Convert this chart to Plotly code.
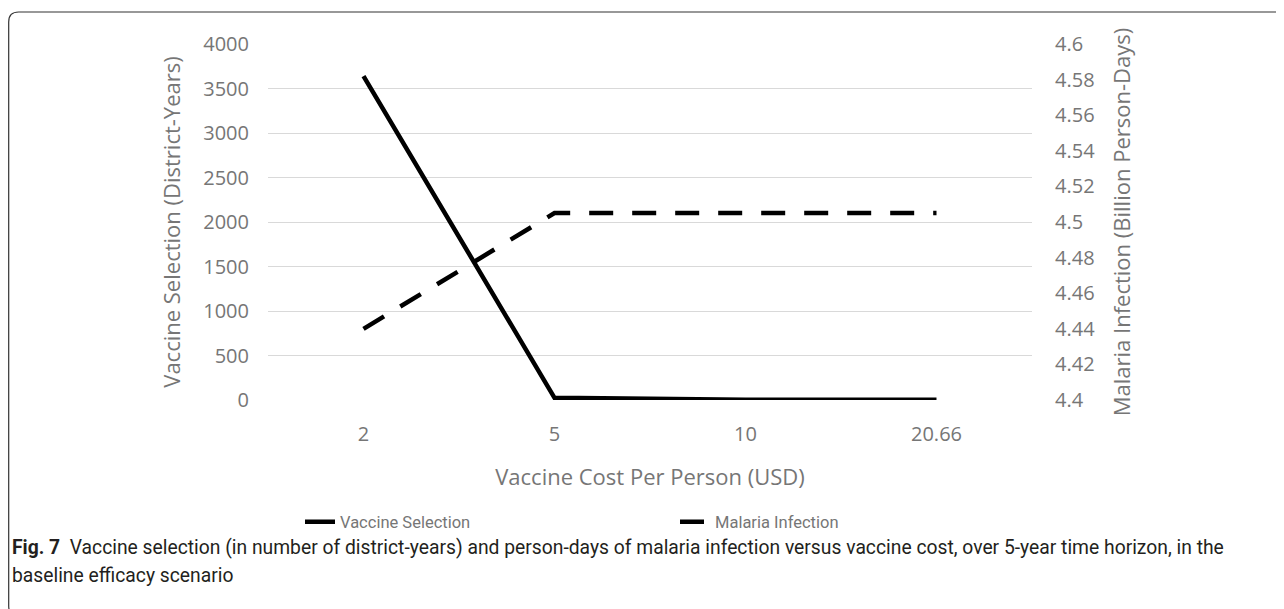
import plotly.graph_objects as go

categories = ["2", "5", "10", "20.66"]
vaccine_selection = [3640, 25, 3, 2]
malaria_infection = [4.44, 4.505, 4.505, 4.505]

OFF = 8  # page body margin
W, H = 1284 - OFF, 609 - OFF
# plot area in screen pixels
SL, SR, ST, SB = 268, 1032, 44, 400
L, R, T, B = SL - OFF, SR - OFF, ST - OFF, SB - OFF

def px(x):  # screen x -> paper
    return (x - SL) / (SR - SL)

def py(y):  # screen y -> paper
    return (SB - y) / (SB - ST)

gray = "#767676"
sans = "Open Sans, Segoe UI, sans-serif"
tickfont = dict(family=sans, size=20, color=gray)
titlefont = dict(family=sans, size=22, color=gray)

fig = go.Figure()
fig.add_trace(go.Scatter(x=categories, y=vaccine_selection, name="Vaccine Selection",
                         mode="lines", line=dict(color="black", width=4.5), yaxis="y"))
fig.add_trace(go.Scatter(x=categories, y=malaria_infection, name="Malaria Infection",
                         mode="lines", line=dict(color="black", width=4.5, dash="24px,19px"), yaxis="y2"))

# rounded border
x0, y0, x1, y1, r = 8.7, 12, 1292, 616, 10
path = (f"M {px(x0+r)},{py(y0)} L {px(x1-r)},{py(y0)} Q {px(x1)},{py(y0)} {px(x1)},{py(y0+r)} "
        f"L {px(x1)},{py(y1-r)} Q {px(x1)},{py(y1)} {px(x1-r)},{py(y1)} "
        f"L {px(x0+r)},{py(y1)} Q {px(x0)},{py(y1)} {px(x0)},{py(y1-r)} "
        f"L {px(x0)},{py(y0+r)} Q {px(x0)},{py(y0)} {px(x0+r)},{py(y0)} Z")
fig.add_shape(type="path", path=path, xref="paper", yref="paper",
              line=dict(color="#333333", width=1.2), layer="below")

capfont = dict(family="Roboto, sans-serif", size=19.3, color="#231f20")
fig.add_annotation(text="<b>Fig. 7</b>  Vaccine selection (in number of district-years) and person-days of malaria infection versus vaccine cost, over 5-year time horizon, in the",
                   xref="paper", yref="paper", x=px(10), y=py(547), xanchor="left", yanchor="middle",
                   showarrow=False, font=capfont)
fig.add_annotation(text="baseline efficacy scenario",
                   xref="paper", yref="paper", x=px(10), y=py(575), xanchor="left", yanchor="middle",
                   showarrow=False, font=capfont)

fig.update_layout(
    width=W, height=H,
    margin=dict(l=L, r=W - R, t=T, b=H - B, autoexpand=False),
    plot_bgcolor="white", paper_bgcolor="white",
    showlegend=True,
    legend=dict(orientation="h", x=px(300), xanchor="left", y=py(522), yanchor="middle",
                font=dict(family="Roboto, sans-serif", size=16.5, color=gray),
                entrywidth=330, entrywidthmode="pixels", tracegroupgap=0),
    xaxis=dict(type="category", range=[-0.5, 3.5], showgrid=False, zeroline=False, showline=False,
               automargin=False, tickfont=tickfont, ticks="", ticklabelstandoff=20,
               title=dict(text="Vaccine Cost Per Person (USD)", font=titlefont, standoff=23)),
    yaxis=dict(range=[0, 4000], dtick=500, showgrid=True, gridcolor="#d9d9d9", gridwidth=1,
               automargin=False, zeroline=False, showline=False, tickfont=tickfont, ticks="", ticklabelstandoff=18,
               title=dict(text="Vaccine Selection (District-Years)", font=titlefont, standoff=16)),
    yaxis2=dict(range=[4.4, 4.6], dtick=0.02, overlaying="y", side="right", showgrid=False,
                automargin=False, zeroline=False, showline=False, tickfont=tickfont, ticks="", ticklabelstandoff=22,
                tickformat="~g",
                title=dict(text="Malaria Infection (Billion Person-Days)", font=titlefont, standoff=20)),
)

fig.write_html("out.html")
